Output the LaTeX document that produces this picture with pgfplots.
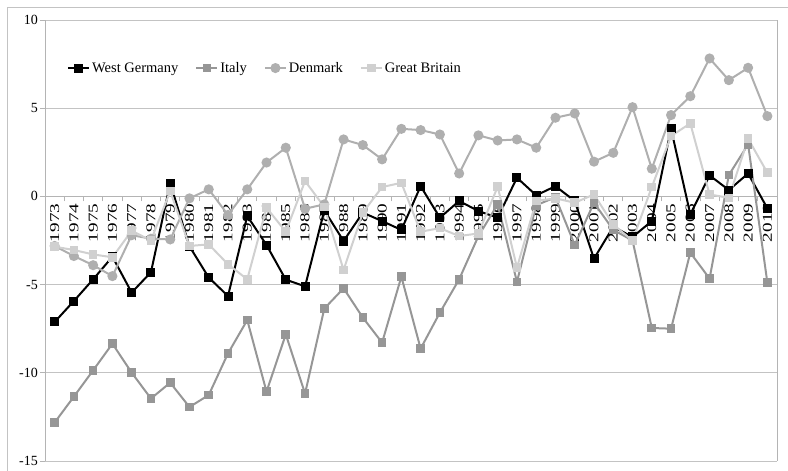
\documentclass[border=0pt]{standalone}
\usepackage{pgfplots}
\pgfplotsset{compat=1.18}
\usepackage{pgfplotstable}
\usepackage{fontspec}
\setmainfont{Liberation Serif}
\definecolor{wgcol}{RGB}{0,0,0}
\definecolor{itcol}{RGB}{150,150,150}
\definecolor{dkcol}{RGB}{175,175,175}
\definecolor{gbcol}{RGB}{208,208,208}
\definecolor{gridcol}{RGB}{195,195,195}
\definecolor{axcol}{RGB}{180,180,180}
\pgfplotstableread{
idx year wg it dk gb
0 1973 -7.12 -12.82 -2.81 -2.85
1 1974 -5.93 -11.35 -3.38 -3.04
2 1975 -4.70 -9.86 -3.90 -3.29
3 1976 -3.42 -8.35 -4.52 -3.45
4 1977 -5.45 -9.99 -2.20 -1.95
5 1978 -4.30 -11.46 -2.40 -2.50
6 1979 0.75 -10.56 -2.44 0.30
7 1980 -2.83 -11.94 -0.11 -2.81
8 1981 -4.60 -11.26 0.40 -2.72
9 1982 -5.65 -8.90 -1.05 -3.85
10 1983 -1.11 -7.01 0.40 -4.70
11 1984 -2.76 -11.07 1.92 -0.64
12 1985 -4.72 -7.82 2.76 -2.00
13 1986 -5.10 -11.18 -0.70 0.87
14 1987 -0.79 -6.36 -0.45 -0.60
15 1988 -2.53 -5.21 3.23 -4.17
16 1989 -0.92 -6.87 2.91 -0.92
17 1990 -1.40 -8.29 2.10 0.53
18 1991 -1.90 -4.55 3.83 0.77
19 1992 0.58 -8.63 3.76 -2.00
20 1993 -1.21 -6.59 3.51 -1.80
21 1994 -0.26 -4.70 1.30 -2.25
22 1995 -0.83 -2.25 3.46 -2.10
23 1996 -1.21 -0.45 3.17 0.55
24 1997 1.06 -4.85 3.23 -4.04
25 1998 0.06 -0.50 2.76 -0.26
26 1999 0.58 -0.05 4.46 -0.11
27 2000 -0.26 -2.75 4.70 -0.36
28 2001 -3.53 -0.36 1.97 0.11
29 2002 -1.72 -1.90 2.47 -1.60
30 2003 -2.30 -2.50 5.06 -2.50
31 2004 -1.40 -7.46 1.57 0.53
32 2005 3.83 -7.50 4.61 3.42
33 2006 -1.02 -3.19 5.68 4.14
34 2007 1.19 -4.66 7.82 0.11
35 2008 0.36 1.21 6.59 -0.08
36 2009 1.30 2.95 7.29 3.27
37 2010 -0.68 -4.89 4.55 1.34
}\datatable
\begin{document}
\begin{tikzpicture}
\begin{axis}[
  at={(0pt,0pt)}, anchor=south west,
  scale only axis, width=732pt, height=441pt,
  xmin=-0.5, xmax=37.5, ymin=-15, ymax=10,
  axis x line*=middle, axis y line*=left,
  axis line style={draw=axcol, line width=0.8pt},
  hide obscured x ticks=false, hide obscured y ticks=false,
  xtick={0,...,37},
  xticklabels={1973,1974,1975,1976,1977,1978,1979,1980,1981,1982,1983,1984,1985,1986,1987,1988,1989,1990,1991,1992,1993,1994,1995,1996,1997,1998,1999,2000,2001,2002,2003,2004,2005,2006,2007,2008,2009,2010},
  major x tick style={draw=none},
  minor xtick={-0.5,0.5,...,37.5},
  minor x tick style={draw=axcol, line width=0.8pt},
  ytick={-15,-10,-5,0,5,10},
  yticklabels={-15,-10,-5,0,5,10},
  y tick style={draw=axcol, line width=0.8pt},
  tick align=outside,
  major tick length=5pt, minor tick length=5pt,
  ymajorgrids, grid style={draw=gridcol, line width=0.8pt},
  xticklabel style={rotate=90, anchor=east, xscale=1.42, font=\fontsize{13.5}{15}\selectfont, inner sep=1.5pt},
  yticklabel style={font=\fontsize{14}{16}\selectfont, inner sep=2pt},
  legend columns=4,
  legend cell align=left,
  legend style={at={(0.030,0.891)}, anchor=west, draw=none, fill=none, inner sep=0pt,
    font=\fontsize{14.5}{16}\selectfont,
    nodes={inner xsep=2pt, inner ysep=0pt},
    /tikz/every even column/.append style={column sep=15pt}},
  legend image code/.code={\draw[mark repeat=2, mark phase=2] plot coordinates {(0pt,0pt) (10.5pt,0pt) (21pt,0pt)};},
  clip=false,
]
\addplot[wgcol, line width=2pt, mark=square*, mark size=3.5pt, mark options={solid}] table[x=idx, y=wg] {\datatable};
\addlegendentry{West Germany}
\addplot[itcol, line width=2pt, mark=square*, mark size=3.3pt, mark options={solid}] table[x=idx, y=it] {\datatable};
\addlegendentry{Italy}
\addplot[dkcol, line width=2pt, mark=*, mark size=4pt, mark options={solid}] table[x=idx, y=dk] {\datatable};
\addlegendentry{Denmark}
\addplot[gbcol, line width=2pt, mark=square*, mark size=3.3pt, mark options={solid}] table[x=idx, y=gb] {\datatable};
\addlegendentry{Great Britain}
\draw[axcol, line width=0.8pt] (axis cs:37.5,-15) -- (axis cs:37.5,10);
\end{axis}
\draw[gridcol, line width=0.8pt] (-38pt,-10pt) -- (-38pt,454pt) -- (743pt,454pt);
\pgfresetboundingbox
\useasboundingbox (-45pt,-10pt) rectangle (743pt,461pt);
\end{tikzpicture}
\end{document}
